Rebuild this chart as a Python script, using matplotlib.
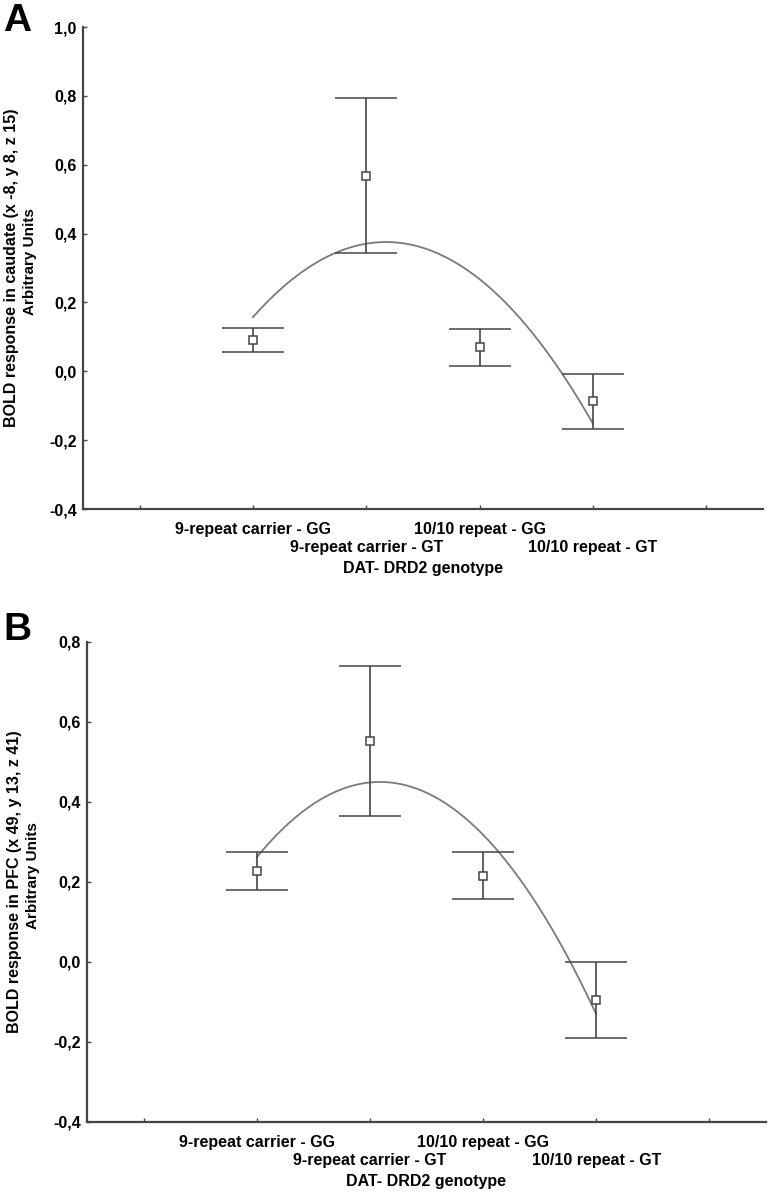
import numpy as np
import matplotlib
matplotlib.use("Agg")
import matplotlib.pyplot as plt

plt.rcParams['font.family'] = ['Liberation Sans', 'DejaVu Sans']
plt.rcParams['font.weight'] = 'bold'

positions = [1, 2, 3, 4]
genotypes = ["9-repeat carrier - GG", "9-repeat carrier - GT",
             "10/10 repeat - GG", "10/10 repeat - GT"]

# panel A: caudate
caudate_mean = [0.092, 0.567, 0.071, -0.087]
caudate_low = [0.056, 0.343, 0.015, -0.169]
caudate_high = [0.127, 0.795, 0.122, -0.007]

# panel B: PFC
pfc_mean = [0.227, 0.553, 0.214, -0.096]
pfc_low = [0.181, 0.364, 0.158, -0.190]
pfc_high = [0.275, 0.739, 0.274, 0.000]

yticks_a = [-0.4, -0.2, 0.0, 0.2, 0.4, 0.6, 0.8, 1.0]
yticks_b = [-0.4, -0.2, 0.0, 0.2, 0.4, 0.6, 0.8]

dark = "#454545"
curve_col = "#7a7a7a"

W, H = 768, 1199
fig = plt.figure(figsize=(W / 100, H / 100), dpi=100)


def px_axes(left, right, top, bottom):
    return fig.add_axes([left / W, 1 - bottom / H, (right - left) / W, (bottom - top) / H])


def draw_panel(ax, mean, low, high, yticks, ylabel, letter, letter_base, lab_x):
    mean = np.array(mean)
    err = [mean - np.array(low), np.array(high) - mean]

    # quadratic fit through the group means
    coef = np.polyfit(positions, mean, 2)
    xs = np.linspace(1, 4, 200)
    ax.plot(xs, np.polyval(coef, xs), color=curve_col, lw=1.3, zorder=2)

    ax.errorbar(positions, mean, yerr=err, fmt='s', ms=5.5, mfc='white', mec=dark,
                mew=1.1, ecolor=dark, elinewidth=1.2, capsize=22, capthick=1.5,
                zorder=3)

    ax.set_xlim(-0.5, 5.5)
    ax.set_ylim(yticks[0], yticks[-1])
    ax.set_xticks(range(6))
    ax.set_xticklabels([])
    ax.set_yticks(yticks)
    ax.set_yticklabels([f"{v:.1f}".replace(".", ",") for v in yticks])
    ax.tick_params(direction='in', length=3, width=1, color=dark,
                   labelsize=11.5, pad=4.5)
    for s in ["top", "right"]:
        ax.spines[s].set_visible(False)
    for s in ["left", "bottom"]:
        ax.spines[s].set_color(dark)
        ax.spines[s].set_linewidth(1.6)

    for i, (x, lab) in enumerate(zip(positions, genotypes)):
        off = -14.5 if i % 2 == 0 else -27.5
        ax.annotate(lab, xy=(x, 0), xycoords=('data', 'axes fraction'),
                    xytext=(0, off), textcoords='offset points',
                    ha='center', va='center', fontsize=11.5, fontweight='bold')
    ax.annotate("DAT- DRD2 genotype", xy=(0.5, 0), xycoords='axes fraction',
                xytext=(0, -43), textcoords='offset points',
                ha='center', va='center', fontsize=11.5, fontweight='bold')

    bb = ax.get_position()
    yc = bb.y0 + bb.height / 2
    fig.text(lab_x / W, yc, ylabel, rotation=90, ha='center', va='center',
             fontsize=11.5, fontweight='bold')
    fig.text((lab_x + 18) / W, yc + 6 / H, "Arbitrary Units", rotation=90,
             ha='center', va='center', fontsize=11, fontweight='bold')
    fig.text(3 / W, 1 - letter_base / H, letter, ha='left', va='baseline',
             fontsize=28, fontweight='bold')


ax_a = px_axes(83, 763, 27, 509)
draw_panel(ax_a, caudate_mean, caudate_low, caudate_high, yticks_a,
           "BOLD response in caudate (x -8, y 8, z 15)", "A", 31, 12)

ax_b = px_axes(87, 766, 642, 1122)
draw_panel(ax_b, pfc_mean, pfc_low, pfc_high, yticks_b,
           "BOLD response in PFC (x 49, y 13, z 41)", "B", 640, 15)

fig.savefig("out.png", dpi=100)
